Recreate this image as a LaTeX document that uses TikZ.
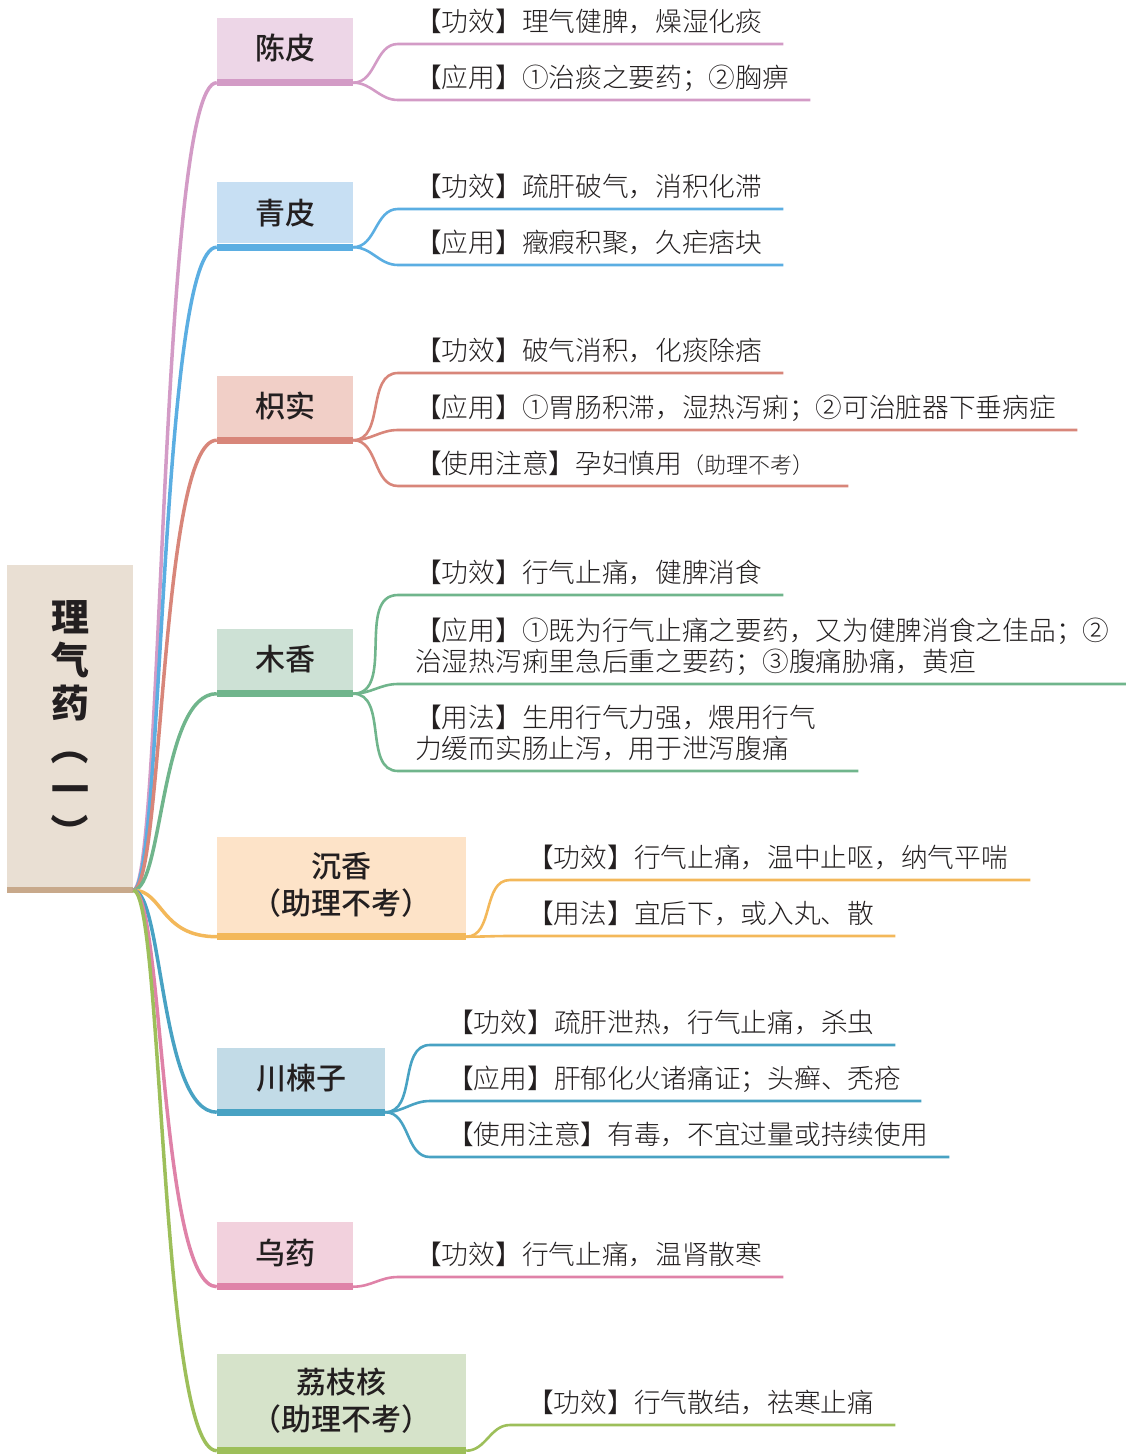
\documentclass[tikz,border=0pt]{standalone}
\usepackage{fontspec}
\setmainfont{Noto Sans CJK SC}
\newfontfamily\thinfamily{Noto Sans CJK SC Light}
\newfontfamily\midfamily{Noto Sans CJK SC Medium}

\definecolor{ink}{HTML}{231F20}
\definecolor{rootF}{HTML}{E9DFD3}
\definecolor{rootL}{HTML}{C8A98B}
\definecolor{chenpiF}{HTML}{EDD6E7}
\definecolor{chenpiL}{HTML}{D39BC6}
\definecolor{qingpiF}{HTML}{C7DFF3}
\definecolor{qingpiL}{HTML}{5BAEE2}
\definecolor{zhishiF}{HTML}{F1CFC7}
\definecolor{zhishiL}{HTML}{D8867A}
\definecolor{muxiangF}{HTML}{CDE1D5}
\definecolor{muxiangL}{HTML}{70B58C}
\definecolor{chenxiangF}{HTML}{FDE3C8}
\definecolor{chenxiangL}{HTML}{F3B85A}
\definecolor{chuanlianF}{HTML}{C2DBE7}
\definecolor{chuanlianL}{HTML}{48A2C3}
\definecolor{wuyaoF}{HTML}{F2D1DD}
\definecolor{wuyaoL}{HTML}{DF82A8}
\definecolor{lizhiF}{HTML}{D6E3CA}
\definecolor{lizhiL}{HTML}{9DBF5A}

\newcommand{\rootfont}{\fontsize{38}{43}\selectfont\bfseries}
\newcommand{\boxfont}{\midfamily\fontsize{30}{37}\selectfont}
\newcommand{\itemfont}{\thinfamily\fontsize{26.7}{31.5}\selectfont}
\newcommand{\smallnote}{\fontsize{22}{26}\selectfont}
\newcommand{\sidewise}[1]{\rotatebox[origin=c]{-90}{#1}}

\begin{document}
\begin{tikzpicture}[x=1pt,y=-1pt,
  box/.style={fill=#1, inner sep=0, minimum width=136, minimum height=61, text=ink, font=\boxfont, align=center},
  item/.style={anchor=south west, inner xsep=17, inner ysep=8, text depth=4, align=left, text=ink, font=\itemfont, text width=#1},
  twoline/.style={text depth=35.5},
  twig/.style={draw=#1, line width=2.6},
  stem/.style={draw=#1, line width=3.5, to path={.. controls +(30,0) and +(-57,0) .. (\tikztotarget)}}]
\useasboundingbox (0,0) rectangle (1126,1455);

% root
\node[fill=rootF, inner sep=0, minimum width=126, minimum height=322, align=center, font=\rootfont, text=ink] (root) at (70,726) {理\\气\\药\\\sidewise{（}\\一\\\sidewise{）}};
\fill[rootL] (root.south west) rectangle ([yshift=-6pt]root.south east);

% boxes
\node[box=chenpiF] (chenpi) at (285,48.5) {陈皮};
\node[box=qingpiF] (qingpi) at (285,213) {青皮};
\node[box=zhishiF] (zhishi) at (285,406) {枳实};
\node[box=muxiangF] (muxiang) at (285,659.5) {木香};
\node[box=chenxiangF, minimum width=249, minimum height=96] (chenxiang) at (341.5,885) {沉香\\（助理不考）};
\node[box=chuanlianF, minimum width=168] (chuanlian) at (301,1078) {川楝子};
\node[box=wuyaoF] (wuyao) at (285,1252.5) {乌药};
\node[box=lizhiF, minimum width=249, minimum height=93] (lizhi) at (341.5,1400.5) {荔枝核\\（助理不考）};
\fill[chenpiL] (chenpi.south west) rectangle ([yshift=-7pt]chenpi.south east);
\fill[qingpiL] (qingpi.south west) rectangle ([yshift=-7pt]qingpi.south east);
\fill[zhishiL] (zhishi.south west) rectangle ([yshift=-7pt]zhishi.south east);
\fill[muxiangL] (muxiang.south west) rectangle ([yshift=-7pt]muxiang.south east);
\fill[chenxiangL] (chenxiang.south west) rectangle ([yshift=-7pt]chenxiang.south east);
\fill[chuanlianL] (chuanlian.south west) rectangle ([yshift=-7pt]chuanlian.south east);
\fill[wuyaoL] (wuyao.south west) rectangle ([yshift=-7pt]wuyao.south east);
\fill[lizhiL] (lizhi.south west) rectangle ([yshift=-7pt]lizhi.south east);

% items
\node[item=351] (chenpi-a) at (398,44) {【功效】理气健脾，燥湿化痰};
\node[item=378] (chenpi-b) at (398,100) {【应用】①治痰之要药；②胸痹};
\node[item=351] (qingpi-a) at (398,209) {【功效】疏肝破气，消积化滞};
\node[item=351] (qingpi-b) at (398,265) {【应用】癥瘕积聚，久疟痞块};
\node[item=351] (zhishi-a) at (398,373) {【功效】破气消积，化痰除痞};
\node[item=645] (zhishi-b) at (398,430) {【应用】①胃肠积滞，湿热泻痢；②可治脏器下垂病症};
\node[item=416] (zhishi-c) at (398,486) {【使用注意】孕妇慎用{\smallnote（助理不考）}};
\node[item=351] (muxiang-a) at (398,595) {【功效】行气止痛，健脾消食};
\node[item=694, twoline] (muxiang-b) at (398,684) {【应用】①既为行气止痛之要药，又为健脾消食之佳品；②\\治湿热泻痢里急后重之要药；③腹痛胁痛，黄疸};
\node[item=426, twoline] (muxiang-c) at (398,771) {【用法】生用行气力强，煨用行气\\力缓而实肠止泻，用于泄泻腹痛};
\node[item=486] (chenxiang-a) at (510,880) {【功效】行气止痛，温中止呕，纳气平喘};
\node[item=351] (chenxiang-b) at (510,936) {【用法】宜后下，或入丸、散};
\node[item=431] (chuanlian-a) at (430,1045) {【功效】疏肝泄热，行气止痛，杀虫};
\node[item=457] (chuanlian-b) at (430,1101) {【应用】肝郁化火诸痛证；头癣、秃疮};
\node[item=485] (chuanlian-c) at (430,1157) {【使用注意】有毒，不宜过量或持续使用};
\node[item=351] (wuyao-a) at (398,1277) {【功效】行气止痛，温肾散寒};
\node[item=351] (lizhi-a) at (510,1425) {【功效】行气散结，祛寒止痛};

% twigs
\path[twig=chenpiL] ([yshift=-3.5pt]chenpi.south east) to[out=0,in=180] (chenpi-a.south west) -- (chenpi-a.south east);
\path[twig=chenpiL] ([yshift=-3.5pt]chenpi.south east) to[out=0,in=180] (chenpi-b.south west) -- (chenpi-b.south east);
\path[twig=qingpiL] ([yshift=-3.5pt]qingpi.south east) to[out=0,in=180] (qingpi-a.south west) -- (qingpi-a.south east);
\path[twig=qingpiL] ([yshift=-3.5pt]qingpi.south east) to[out=0,in=180] (qingpi-b.south west) -- (qingpi-b.south east);
\path[twig=zhishiL] ([yshift=-3.5pt]zhishi.south east) to[out=0,in=180] (zhishi-a.south west) -- (zhishi-a.south east);
\path[twig=zhishiL] ([yshift=-3.5pt]zhishi.south east) to[out=0,in=180] (zhishi-b.south west) -- (zhishi-b.south east);
\path[twig=zhishiL] ([yshift=-3.5pt]zhishi.south east) to[out=0,in=180] (zhishi-c.south west) -- (zhishi-c.south east);
\path[twig=muxiangL] ([yshift=-3.5pt]muxiang.south east) to[out=0,in=180] (muxiang-a.south west) -- (muxiang-a.south east);
\path[twig=muxiangL] ([yshift=-3.5pt]muxiang.south east) to[out=0,in=180] (muxiang-b.south west) -- (muxiang-b.south east);
\path[twig=muxiangL] ([yshift=-3.5pt]muxiang.south east) to[out=0,in=180] (muxiang-c.south west) -- (muxiang-c.south east);
\path[twig=chenxiangL] ([yshift=-3.5pt]chenxiang.south east) to[out=0,in=180] (chenxiang-a.south west) -- (chenxiang-a.south east);
\path[twig=chenxiangL] ([yshift=-3.5pt]chenxiang.south east) to[out=0,in=180] (chenxiang-b.south west) -- (chenxiang-b.south east);
\path[twig=chuanlianL] ([yshift=-3.5pt]chuanlian.south east) to[out=0,in=180] (chuanlian-a.south west) -- (chuanlian-a.south east);
\path[twig=chuanlianL] ([yshift=-3.5pt]chuanlian.south east) to[out=0,in=180] (chuanlian-b.south west) -- (chuanlian-b.south east);
\path[twig=chuanlianL] ([yshift=-3.5pt]chuanlian.south east) to[out=0,in=180] (chuanlian-c.south west) -- (chuanlian-c.south east);
\path[twig=wuyaoL] ([yshift=-3.5pt]wuyao.south east) to[out=0,in=180] (wuyao-a.south west) -- (wuyao-a.south east);
\path[twig=lizhiL] ([yshift=-3.5pt]lizhi.south east) to[out=0,in=180] (lizhi-a.south west) -- (lizhi-a.south east);

% stems from the root
\path[stem=chenpiL] ([yshift=-3pt]root.south east) to ([yshift=-3.5pt]chenpi.south west);
\path[stem=qingpiL] ([yshift=-3pt]root.south east) to ([yshift=-3.5pt]qingpi.south west);
\path[stem=zhishiL] ([yshift=-3pt]root.south east) to ([yshift=-3.5pt]zhishi.south west);
\path[stem=muxiangL] ([yshift=-3pt]root.south east) to ([yshift=-3.5pt]muxiang.south west);
\path[stem=chenxiangL] ([yshift=-3pt]root.south east) to ([yshift=-3.5pt]chenxiang.south west);
\path[stem=chuanlianL] ([yshift=-3pt]root.south east) to ([yshift=-3.5pt]chuanlian.south west);
\path[stem=wuyaoL] ([yshift=-3pt]root.south east) to ([yshift=-3.5pt]wuyao.south west);
\path[stem=lizhiL] ([yshift=-3pt]root.south east) to ([yshift=-3.5pt]lizhi.south west);
\end{tikzpicture}
\end{document}
